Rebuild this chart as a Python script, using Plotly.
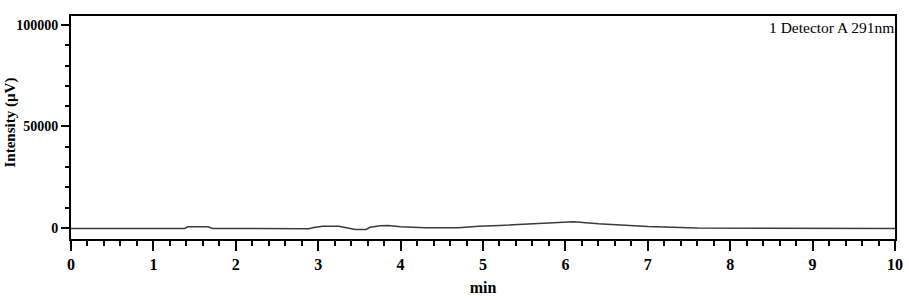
import plotly.graph_objects as go

# Retention time (min) and detector signal (µV)
time_min = [0.0, 1.38, 1.42, 1.66, 1.72, 2.0, 2.88, 2.95, 3.05, 3.25, 3.38, 3.45, 3.58,
            3.63, 3.75, 3.85, 4.0, 4.3, 4.7, 4.95, 5.2, 5.5, 5.8, 6.1, 6.4, 6.75,
            7.0, 7.6, 8.9, 10.0]
intensity_uv = [-300, -300, 500, 500, -300, -400, -400, 200, 800, 800, -200, -800, -800,
                300, 1000, 1200, 500, 0, 0, 800, 1200, 1800, 2300, 3000, 2000, 1000,
                600, -100, -200, -300]

x_ticks = list(range(0, 11))
y_ticks = [0, 50000, 100000]
detector_label = "1 Detector A 291nm"
y_title = "Intensity (µV)"
x_title = "min"

FONT = "Liberation Serif"

fig = go.Figure()
fig.add_trace(go.Scatter(
    x=time_min, y=intensity_uv, mode="lines",
    line=dict(color="#3a3a3a", width=1.5),
    showlegend=False, hoverinfo="skip",
))

fig.update_layout(
    width=909, height=300,
    margin=dict(l=71, r=14, t=16, b=61, autoexpand=False),
    paper_bgcolor="white", plot_bgcolor="white",
    font=dict(family=FONT, color="black"),
    annotations=[
        dict(text=detector_label, xref="paper", yref="paper", x=1.0, y=1.0,
             xanchor="right", yanchor="top", showarrow=False, xshift=1, yshift=-1,
             font=dict(family=FONT, size=15.5, color="black")),
        dict(text="<b>" + y_title + "</b>", xref="paper", yref="paper", x=0.0, y=0.5,
             xanchor="center", yanchor="middle", showarrow=False, textangle=-90,
             xshift=-61, yshift=5,
             font=dict(family=FONT, size=15, color="black")),
    ],
)

fig.update_xaxes(
    range=[0, 10], tickvals=x_ticks, ticktext=[str(v) for v in x_ticks],
    showgrid=False, zeroline=False, automargin=False,
    showline=True, linecolor="black", linewidth=2, mirror=True,
    ticks="outside", ticklen=10, tickwidth=2, tickcolor="black",
    minor=dict(dtick=0.2, ticks="outside", ticklen=5, tickwidth=2, tickcolor="black", showgrid=False),
    tickfont=dict(family=FONT, size=16, color="black", weight="bold"),
    title=dict(text="<b>" + x_title + "</b>", font=dict(family=FONT, size=16, color="black"), standoff=10),
)

fig.update_yaxes(
    range=[-5500, 104400], tickvals=y_ticks, ticktext=[str(v) for v in y_ticks],
    showgrid=False, zeroline=False, automargin=False,
    showline=True, linecolor="black", linewidth=2, mirror=True,
    ticks="outside", ticklen=8, tickwidth=2, tickcolor="black",
    minor=dict(dtick=10000, tick0=0, ticks="outside", ticklen=4, tickwidth=2, tickcolor="black", showgrid=False),
    tickfont=dict(family=FONT, size=14, color="black", weight="bold"),
)

fig.write_html("out.html")
